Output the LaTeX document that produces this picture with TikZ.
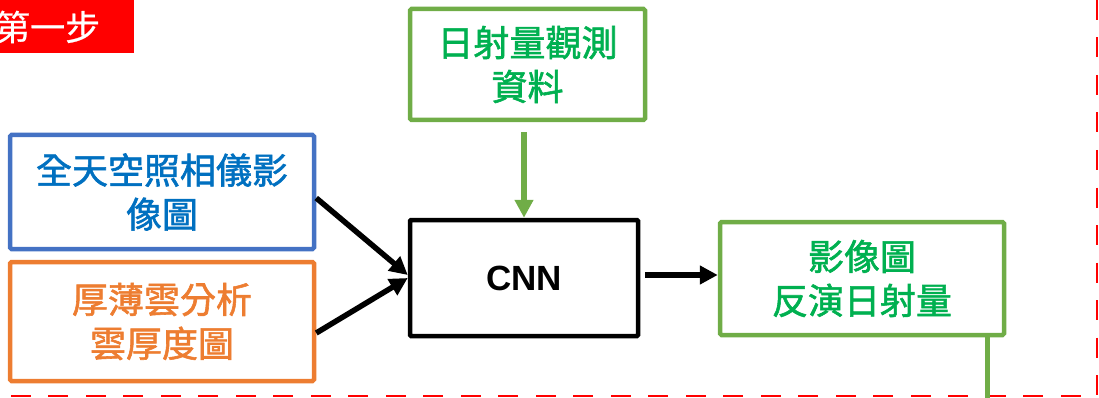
\documentclass[tikz,border=0pt]{standalone}
\usepackage{fontspec}
\setmainfont{Liberation Sans}
\newfontfamily\cjk[FakeBold=1.6]{Noto Sans CJK TC}
\newfontfamily\cjklab[FakeBold=0.6]{Noto Sans CJK TC}
\usetikzlibrary{arrows.meta}
\definecolor{bblue}{HTML}{4472C4}
\definecolor{tblue}{HTML}{0070C0}
\definecolor{oorange}{HTML}{ED7D31}
\definecolor{ggreen}{HTML}{70AD47}
\definecolor{tgreen}{HTML}{00B050}
\definecolor{rred}{HTML}{FF0000}
\begin{document}
\begin{tikzpicture}[x=1pt,y=-1pt,
  box/.style={draw,line width=4.5pt,rounded corners=1.5pt,align=center,inner sep=0pt,
    font=\cjk\fontsize{36}{44}\selectfont},
  blk/.style={line width=5.5pt,-{Triangle[length=18pt,width=18pt]}},
]
\useasboundingbox (0,0) rectangle (1099,398);
% red dashed frame
\draw[rred,line width=2.5pt,dash pattern=on 20pt off 17.5pt] (1097,0) -- (1097,396) -- (0,396);
% step label
\fill[rred] (-5,-5) rectangle (134,53);
\node[anchor=west,text=white,inner sep=0pt,font=\cjklab\fontsize{35}{35}\selectfont] (lab) at (-5,27) {第一步};
% boxes
\node[box,draw=bblue,text=tblue,minimum width=304pt,minimum height=114pt] (blue) at (162,192) {全天空照相儀影\\像圖};
\node[box,draw=oorange,text=oorange,minimum width=304pt,minimum height=119pt] (orange) at (162,321.5) {厚薄雲分析\\雲厚度圖};
\node[box,draw=ggreen,text=tgreen,minimum width=235pt,minimum height=111pt] (obs) at (527.5,64.5) {日射量觀測\\資料};
\node[box,draw=black,rounded corners=1pt,minimum width=228pt,minimum height=116pt,font=\bfseries\fontsize{35}{40}\selectfont] (cnn) at (524,278) {CNN};
\node[box,draw=ggreen,text=tgreen,minimum width=284pt,minimum height=113pt] (out) at (862,278.5) {影像圖\\反演日射量};
% connectors
\draw[blk] ([yshift=-6pt]blue.east) -- ([yshift=3pt]cnn.west);
\draw[blk] ([yshift=-11.5pt]orange.east) -- ([yshift=0pt]cnn.west);
\draw[ggreen,line width=6pt,-{Triangle[length=18pt,width=18pt]}] ([xshift=-3.5pt,yshift=-10pt]obs.south) -- ([xshift=0pt]cnn.north);
\draw[blk] ([xshift=5pt,yshift=3pt]cnn.east) -- ([yshift=3.5pt]out.west);
\coordinate (bot) at (987,400);
\draw[ggreen,line width=5pt] (out.south -| bot) -- (bot);
\end{tikzpicture}
\end{document}
